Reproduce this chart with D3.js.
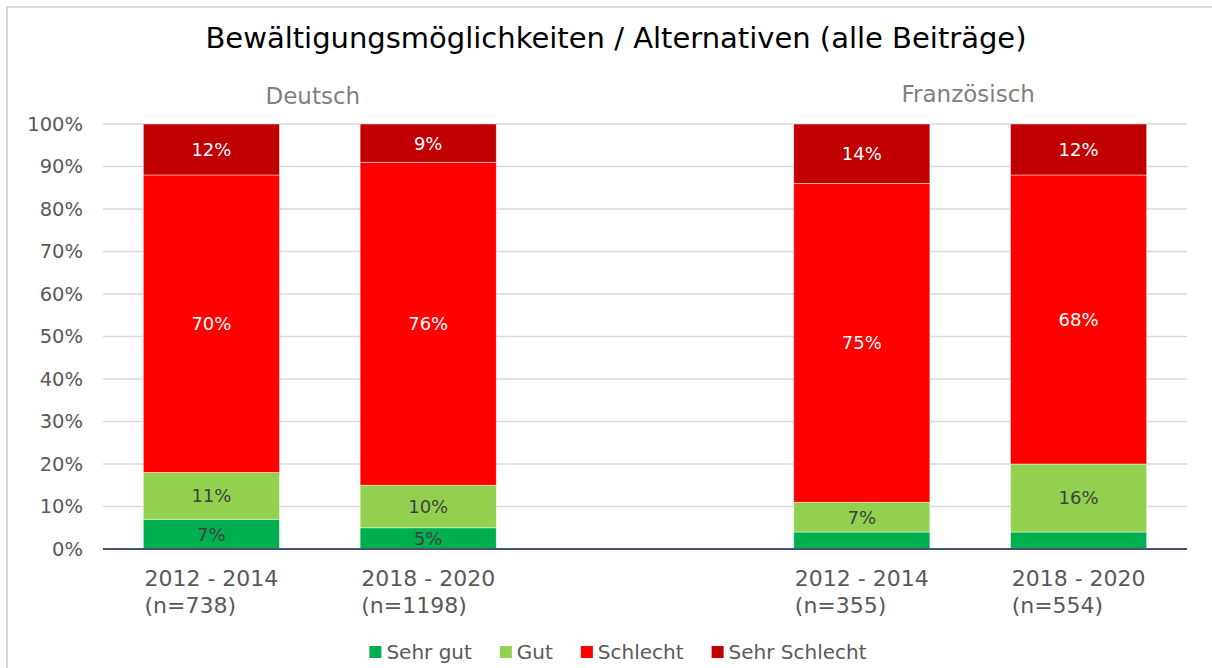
<!DOCTYPE html>
<html>
<head>
<meta charset="utf-8">
<script src="https://cdn.jsdelivr.net/npm/d3@7"></script>
<style>
  body { margin: 0; background: #fff; }
  svg { font-family: "DejaVu Sans", sans-serif; }
</style>
</head>
<body>
<div id="chart"></div>
<script>
// DATA
const periods = ["2012 - 2014", "2018 - 2020", "", "2012 - 2014", "2018 - 2020"];
const sampleSizes = ["(n=738)", "(n=1198)", "", "(n=355)", "(n=554)"];
const groups = ["Deutsch", "Französisch"];
const sentiments = ["Sehr gut", "Gut", "Schlecht", "Sehr Schlecht"];
const sehrGut = [7, 5, null, 4, 4];
const gut = [11, 10, null, 7, 16];
const schlecht = [70, 76, null, 75, 68];
const sehrSchlecht = [12, 9, null, 14, 12];
const yTicks = [0, 10, 20, 30, 40, 50, 60, 70, 80, 90, 100];

const W = 1212, H = 668;
const margin = { top: 124, right: 25, bottom: 119, left: 103 };
const width = W - margin.left - margin.right;
const height = H - margin.top - margin.bottom;

const svg = d3.select("#chart")
    .append("svg")
    .attr("width", W)
    .attr("height", H);

// frame
svg.append("path")
    .attr("d", `M7,${H + 5} V7 H${W + 5}`)
    .attr("fill", "none")
    .attr("stroke", "#d9d9d9")
    .attr("stroke-width", 2);

const g = svg.append("g")
    .attr("transform", `translate(${margin.left},${margin.top})`);

const slots = d3.range(periods.length);
const rows = slots.map(i => ({
    slot: i,
    "Sehr gut": sehrGut[i] || 0,
    "Gut": gut[i] || 0,
    "Schlecht": schlecht[i] || 0,
    "Sehr Schlecht": sehrSchlecht[i] || 0,
    empty: sehrGut[i] == null
}));

const x = d3.scaleBand()
    .domain(slots)
    .range([0, width])
    .paddingInner(0.372)
    .paddingOuter(0.186);

const y = d3.scaleLinear()
    .domain([0, 100])
    .range([height, 0]);

const color = d3.scaleOrdinal()
    .domain(sentiments)
    .range(["#00b050", "#92d050", "#ff0000", "#c00000"]);

const labelColor = d3.scaleOrdinal()
    .domain(sentiments)
    .range(["#404040", "#404040", "#ffffff", "#ffffff"]);

// GRIDLINES
g.selectAll("line.grid")
    .data(yTicks.filter(t => t > 0))
    .enter()
    .append("line")
    .attr("x1", 0)
    .attr("x2", width)
    .attr("y1", d => y(d))
    .attr("y2", d => y(d))
    .attr("stroke", "#d9d9d9")
    .attr("stroke-width", 1.5);

// Y AXIS
const yAxis = g.append("g")
    .call(d3.axisLeft(y).tickValues(yTicks).tickFormat(d => d + "%").tickSize(0).tickPadding(20));
yAxis.select(".domain").remove();
yAxis.selectAll("text")
    .attr("fill", "#595959")
    .attr("font-size", "19.5px")
    .attr("font-family", "DejaVu Sans");

// STACK
const series = d3.stack().keys(sentiments)(rows.filter(r => !r.empty));

const layer = g.selectAll("g.layer")
    .data(series)
    .enter()
    .append("g")
    .attr("class", "layer")
    .attr("fill", d => color(d.key));

layer.selectAll("rect")
    .data(d => d)
    .enter()
    .append("rect")
    .attr("x", d => x(d.data.slot))
    .attr("y", d => y(d[1]))
    .attr("height", d => y(d[0]) - y(d[1]))
    .attr("width", x.bandwidth())
    .attr("stroke", "#ffffff")
    .attr("stroke-opacity", 0.6)
    .attr("stroke-width", 0.75);

// DATA LABELS
series.forEach(s => {
    g.selectAll(null)
        .data(s.filter(d => d[1] - d[0] >= 5))
        .enter()
        .append("text")
        .attr("x", d => x(d.data.slot) + x.bandwidth() / 2)
        .attr("y", d => (y(d[0]) + y(d[1])) / 2)
        .attr("dy", "0.36em")
        .attr("text-anchor", "middle")
        .attr("font-size", "18px")
        .attr("fill", labelColor(s.key))
        .text(d => Math.round(d[1] - d[0]) + "%");
});

// X AXIS LINE
g.append("line")
    .attr("x1", 0)
    .attr("x2", width)
    .attr("y1", height)
    .attr("y2", height)
    .attr("stroke", "#44546a")
    .attr("stroke-width", 2);

// X LABELS (two lines, left aligned, block centered)
slots.filter(i => periods[i] !== "").forEach(i => {
    const t = g.append("text")
        .attr("font-size", "22px")
        .attr("fill", "#595959");
    t.append("tspan").attr("x", 0).attr("y", height + 37).text(periods[i]);
    t.append("tspan").attr("x", 0).attr("y", height + 64).text(sampleSizes[i]);
    const w = t.node().getBBox().width;
    t.attr("transform", `translate(${x(i) + x.bandwidth() / 2 - w / 2},0)`);
});

// GROUP LABELS
[[0, 1], [3, 4]].forEach((pair, k) => {
    const cx = (x(pair[0]) + x(pair[1]) + x.bandwidth()) / 2;
    svg.append("text")
        .attr("x", margin.left + cx + (k === 0 ? -7 : -2))
        .attr("y", k === 0 ? 104 : 102)
        .attr("text-anchor", "middle")
        .attr("font-size", "23px")
        .attr("fill", "#7f7f7f")
        .text(groups[k]);
});

// TITLE
svg.append("text")
    .attr("x", 616)
    .attr("y", 48)
    .attr("text-anchor", "middle")
    .attr("font-size", "29px")
    .attr("fill", "#000")
    .text("Bewältigungsmöglichkeiten / Alternativen (alle Beiträge)");

// LEGEND
const legend = svg.append("g");
let lx = 0;
sentiments.forEach(s => {
    const item = legend.append("g").attr("transform", `translate(${lx},0)`);
    item.append("rect")
        .attr("x", 0)
        .attr("y", -6)
        .attr("width", 12)
        .attr("height", 12)
        .attr("fill", color(s));
    const txt = item.append("text")
        .attr("x", 17)
        .attr("dy", "0.36em")
        .attr("font-size", "20px")
        .attr("fill", "#595959")
        .text(s);
    lx += 17 + txt.node().getComputedTextLength() + 28;
});
const legendW = lx - 28;
legend.attr("transform", `translate(${618 - legendW / 2},652)`);
</script>
</body>
</html>
